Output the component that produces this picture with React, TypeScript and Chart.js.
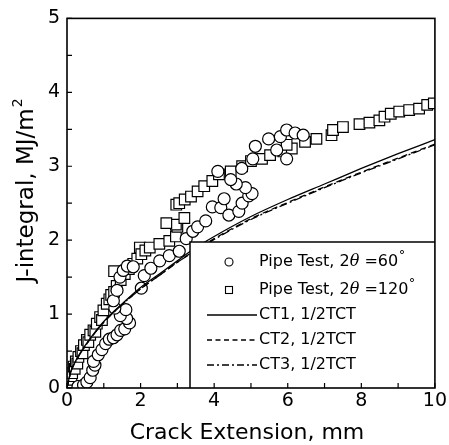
import React, { useEffect, useRef } from "react";
import { Chart, registerables } from "chart.js";

Chart.register(...registerables);

// Pipe Test, 2θ = 60° (circles)
const pipe60X = [0.30, 0.45, 0.54, 0.63, 0.70, 0.76, 0.72, 0.85, 0.95, 1.05, 1.15, 1.26, 1.36, 1.46, 1.57, 1.70, 1.62, 1.45, 1.60, 1.30, 1.26, 1.36, 1.44, 1.53, 1.64, 1.80, 2.02, 2.10, 2.28, 2.52, 2.78, 3.05, 3.24, 3.42, 3.55, 3.77, 3.95, 4.18, 4.27, 4.40, 4.67, 4.76, 4.94, 5.03, 4.85, 4.60, 4.45, 4.10, 4.75, 5.05, 5.12, 5.48, 5.80, 5.97, 6.20, 6.42, 5.97, 5.70];
const pipe60Y = [0.02, 0.04, 0.08, 0.14, 0.24, 0.31, 0.36, 0.45, 0.52, 0.60, 0.66, 0.68, 0.72, 0.78, 0.80, 0.88, 0.94, 0.98, 1.06, 1.08, 1.18, 1.32, 1.50, 1.59, 1.65, 1.64, 1.35, 1.52, 1.62, 1.72, 1.79, 1.85, 2.02, 2.12, 2.18, 2.26, 2.45, 2.44, 2.56, 2.34, 2.39, 2.50, 2.60, 2.63, 2.71, 2.76, 2.82, 2.93, 2.97, 3.10, 3.27, 3.37, 3.40, 3.49, 3.45, 3.42, 3.10, 3.22];

// Pipe Test, 2θ = 120° (squares)
const pipe120X = [0.05, 0.07, 0.09, 0.12, 0.14, 0.18, 0.21, 0.24, 0.28, 0.31, 0.38, 0.42, 0.46, 0.54, 0.58, 0.63, 0.72, 0.77, 0.81, 0.90, 0.95, 0.99, 1.08, 1.15, 1.20, 1.28, 1.35, 1.28, 1.46, 1.57, 1.68, 1.80, 1.91, 1.98, 2.02, 2.13, 2.25, 2.51, 2.78, 2.96, 3.00, 2.96, 2.70, 3.19, 2.97, 3.05, 3.20, 3.37, 3.55, 3.73, 3.95, 4.13, 4.45, 4.76, 5.00, 5.30, 5.52, 5.88, 6.11, 5.97, 6.47, 6.78, 7.19, 7.23, 7.50, 7.95, 8.22, 8.49, 8.63, 8.80, 9.03, 9.30, 9.57, 9.79, 9.97];
const pipe120Y = [0.02, 0.07, 0.11, 0.16, 0.20, 0.29, 0.26, 0.36, 0.33, 0.42, 0.50, 0.47, 0.58, 0.65, 0.62, 0.72, 0.78, 0.76, 0.87, 0.96, 0.92, 1.05, 1.14, 1.20, 1.26, 1.30, 1.38, 1.58, 1.46, 1.54, 1.61, 1.68, 1.75, 1.90, 1.81, 1.86, 1.90, 1.95, 1.99, 2.05, 2.18, 2.21, 2.23, 2.30, 2.48, 2.50, 2.55, 2.59, 2.66, 2.73, 2.80, 2.89, 2.93, 3.00, 3.07, 3.10, 3.15, 3.20, 3.24, 3.29, 3.33, 3.37, 3.42, 3.49, 3.53, 3.57, 3.59, 3.62, 3.67, 3.71, 3.74, 3.76, 3.78, 3.83, 3.85];

// CT specimen J-R curves
const ctX = [0, 0.1, 0.25, 0.5, 0.75, 1, 1.5, 2, 2.5, 3, 3.5, 4, 5, 6, 7, 8, 9, 10];
const ct1Y = [0, 0.22, 0.38, 0.58, 0.75, 0.90, 1.14, 1.36, 1.54, 1.72, 1.90, 2.05, 2.32, 2.55, 2.76, 2.97, 3.17, 3.36];
const ct2Y = [0, 0.21, 0.37, 0.57, 0.74, 0.89, 1.13, 1.34, 1.52, 1.70, 1.87, 2.02, 2.29, 2.51, 2.72, 2.92, 3.11, 3.30];
const ct3Y = [0, 0.21, 0.37, 0.57, 0.74, 0.89, 1.13, 1.34, 1.52, 1.70, 1.86, 2.01, 2.28, 2.50, 2.71, 2.91, 3.10, 3.29];

const xTickStep = 2;
const yTickStep = 1;
const xMinorStep = 1;
const yMinorStep = 0.5;
const xTitle = "Crack Extension, mm";
const yTitle = "J-integral, MJ/m";
const yTitleSup = "2";
const ctLabels = ["CT1, 1/2TCT", "CT2, 1/2TCT", "CT3, 1/2TCT"];
const pipeLabelPrefix = "Pipe Test, 2";
const pipeAngles = ["60", "120"];

const FONT = '"DejaVu Sans", Verdana, sans-serif';

const zip = (xs: number[], ys: number[]) => xs.map((x, i) => ({ x, y: ys[i] }));

const decorPlugin = {
  id: "decor",
  afterDraw(chart: any) {
    const ctx: CanvasRenderingContext2D = chart.ctx;
    const { left, right, top, bottom } = chart.chartArea;
    const xs = chart.scales.x;
    const ys = chart.scales.y;
    ctx.save();

    // legend box
    const lx = 190, ly = 242;
    ctx.fillStyle = "#fff";
    ctx.fillRect(lx, ly, right - lx, bottom - ly);
    ctx.strokeStyle = "#000";
    ctx.lineWidth = 1.5;
    ctx.beginPath();
    ctx.moveTo(lx, bottom);
    ctx.lineTo(lx, ly);
    ctx.lineTo(right, ly);
    ctx.stroke();

    // frame
    ctx.lineWidth = 1.6;
    ctx.strokeRect(left, top, right - left, bottom - top);

    // inward ticks
    ctx.lineWidth = 1.2;
    ctx.beginPath();
    for (let v = 0; v <= 10 + 1e-9; v += xMinorStep) {
      const px = xs.getPixelForValue(v);
      ctx.moveTo(px, bottom);
      ctx.lineTo(px, bottom - 5);
    }
    for (let v = 0; v <= 5 + 1e-9; v += yMinorStep) {
      const py = ys.getPixelForValue(v);
      ctx.moveTo(left, py);
      ctx.lineTo(left + 5, py);
    }
    ctx.stroke();

    // legend entries
    ctx.fillStyle = "#000";
    ctx.textBaseline = "middle";
    const textX = 259;
    const rows = [262, 290, 315, 340, 365];
    const symX = 229;
    ctx.lineWidth = 1.1;
    ctx.beginPath();
    ctx.arc(symX, rows[0], 4, 0, Math.PI * 2);
    ctx.stroke();
    ctx.strokeRect(symX - 3.5, rows[1] - 3.5, 7, 7);
    for (let i = 0; i < 2; i++) {
      let x = textX;
      ctx.font = `16px ${FONT}`;
      ctx.fillText(pipeLabelPrefix, x, rows[i]);
      x += ctx.measureText(pipeLabelPrefix).width;
      ctx.font = `italic 16px "DejaVu Serif", serif`;
      ctx.fillText("θ", x, rows[i]);
      x += ctx.measureText("θ").width;
      ctx.font = `16px ${FONT}`;
      const t = " =" + pipeAngles[i];
      ctx.fillText(t, x, rows[i]);
      x += ctx.measureText(t).width;
      ctx.font = `13px ${FONT}`;
      ctx.fillText("°", x + 0.5, rows[i] - 6);
    }
    const dashes = [[], [5, 3.5], [7, 3, 2, 3]];
    ctx.lineWidth = 1.4;
    for (let i = 0; i < 3; i++) {
      const y = rows[i + 2];
      ctx.setLineDash(dashes[i]);
      ctx.beginPath();
      ctx.moveTo(207, y);
      ctx.lineTo(257, y);
      ctx.stroke();
      ctx.setLineDash([]);
      ctx.font = `16px ${FONT}`;
      ctx.fillText(ctLabels[i], textX, y);
    }

    // axis titles
    ctx.textBaseline = "alphabetic";
    ctx.textAlign = "center";
    ctx.font = `22px ${FONT}`;
    ctx.fillText(xTitle, 247, 439);

    ctx.translate(33, 191);
    ctx.rotate(-Math.PI / 2);
    ctx.textAlign = "left";
    ctx.font = `23px ${FONT}`;
    const w1 = ctx.measureText(yTitle).width;
    ctx.font = `14px ${FONT}`;
    const w2 = ctx.measureText(yTitleSup).width;
    const start = -(w1 + w2) / 2;
    ctx.font = `23px ${FONT}`;
    ctx.fillText(yTitle, start, 0);
    ctx.font = `14px ${FONT}`;
    ctx.fillText(yTitleSup, start + w1 + 1, -11);
    ctx.restore();
  },
};

export default function App() {
  const ref = useRef<HTMLCanvasElement | null>(null);
  useEffect(() => {
    if (!ref.current) return;
    const lineDs = (label: string, ys: number[], dash: number[]) => ({
      type: "line" as const,
      label,
      data: zip(ctX, ys),
      borderColor: "#000",
      borderWidth: 1.3,
      borderDash: dash,
      pointRadius: 0,
      fill: false,
      cubicInterpolationMode: "monotone" as const,
      showLine: true,
    });
    const chart = new Chart(ref.current, {
      type: "scatter",
      data: {
        datasets: [
          lineDs(ctLabels[0], ct1Y, []),
          lineDs(ctLabels[1], ct2Y, [6, 4]),
          lineDs(ctLabels[2], ct3Y, [8, 3, 2, 3]),
          {
            label: "Pipe Test, 2θ =60°",
            data: zip(pipe60X, pipe60Y),
            pointStyle: "circle",
            pointRadius: 6,
            backgroundColor: "#fff",
            borderColor: "#000",
            borderWidth: 1.2,
          },
          {
            label: "Pipe Test, 2θ =120°",
            data: zip(pipe120X, pipe120Y),
            pointStyle: "rect",
            pointRadius: 7.5,
            backgroundColor: "#fff",
            borderColor: "#000",
            borderWidth: 1.2,
          },
        ],
      } as any,
      options: {
        responsive: false,
        animation: false,
        devicePixelRatio: 1,
        layout: { padding: { top: 16, right: 11, left: 0, bottom: 0 } },
        plugins: { legend: { display: false }, tooltip: { enabled: false } },
        scales: {
          x: {
            type: "linear",
            min: 0,
            max: 10,
            ticks: { stepSize: xTickStep, color: "#000", font: { family: FONT, size: 19 }, padding: 2 },
            grid: { display: false, drawTicks: false },
            border: { display: false },
            afterFit: (s: any) => { s.height = 57; },
          },
          y: {
            type: "linear",
            min: 0,
            max: 5,
            ticks: { stepSize: yTickStep, color: "#000", font: { family: FONT, size: 19 }, padding: 7 },
            grid: { display: false, drawTicks: false },
            border: { display: false },
            afterFit: (s: any) => { s.width = 67; },
          },
        },
      } as any,
      plugins: [decorPlugin],
    });
    return () => chart.destroy();
  }, []);
  return (
    <div style={{ position: "fixed", left: 0, top: 0, width: 449, height: 445, background: "#fff" }}>
      <canvas ref={ref} width={449} height={445} style={{ width: 449, height: 445 }} />
    </div>
  );
}
